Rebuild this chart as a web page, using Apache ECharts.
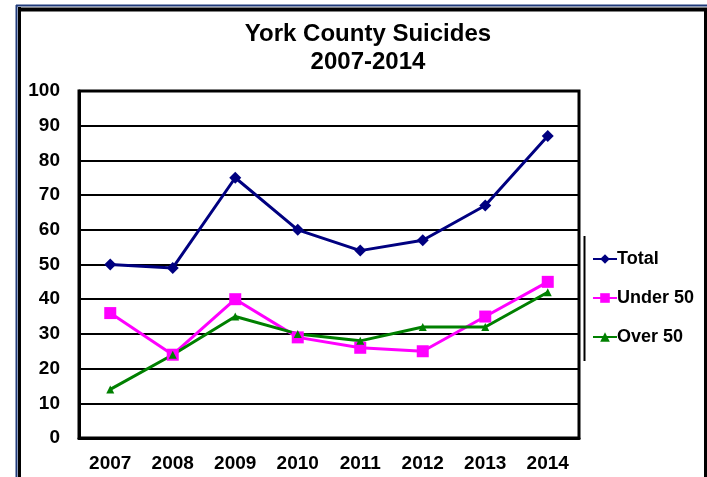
<!DOCTYPE html>
<html>
<head>
<meta charset="utf-8">
<script src="https://cdn.jsdelivr.net/npm/echarts@6/dist/echarts.min.js"></script>
<style>
  html, body { margin: 0; padding: 0; background: #fff; }
  #chart { width: 707px; height: 477px; }
</style>
</head>
<body>
<div id="chart"></div>
<script>
const years = ['2007', '2008', '2009', '2010', '2011', '2012', '2013', '2014']
const total = [50, 49, 75, 60, 54, 57, 67, 87]
const under50 = [36, 24, 40, 29, 26, 25, 35, 45]
const over50 = [14, 24, 35, 30, 28, 32, 32, 42]

const FONT = '"Liberation Sans", Arial, sans-serif'

const chart = echarts.init(document.getElementById('chart'))

// outer frame of the original picture (blue edge + black inner edge)
const frame = [
  { type: 'line', shape: { x1: 16.5, y1: 5, x2: 16.5, y2: 477 }, style: { stroke: '#1f3a7a', lineWidth: 2 } },
  { type: 'line', shape: { x1: 16, y1: 5.5, x2: 707, y2: 5.5 }, style: { stroke: '#1f3a7a', lineWidth: 2 } },
  { type: 'line', shape: { x1: 19.5, y1: 7, x2: 19.5, y2: 477 }, style: { stroke: '#000', lineWidth: 3 } },
  { type: 'line', shape: { x1: 18, y1: 9.5, x2: 707, y2: 9.5 }, style: { stroke: '#000', lineWidth: 4 } },
  { type: 'line', shape: { x1: 705.5, y1: 8, x2: 705.5, y2: 477 }, style: { stroke: '#000', lineWidth: 3 } },
  // legend box left edge
  { type: 'line', shape: { x1: 584.5, y1: 236, x2: 584.5, y2: 361 }, style: { stroke: '#000', lineWidth: 2 } }
]

chart.setOption({
  animation: false,
  title: {
    text: 'York County Suicides\n2007-2014',
    left: 363,
    top: 15,
    textAlign: 'center',
    textStyle: { fontFamily: FONT, fontSize: 24, fontWeight: 'bold', color: '#000', lineHeight: 28 }
  },
  legend: {
    orient: 'vertical',
    left: 587,
    top: 245,
    itemGap: 21,
    itemWidth: 24,
    itemHeight: 12,
    data: ['Total', 'Under 50', 'Over 50'],
    textStyle: { fontFamily: FONT, fontSize: 18, fontWeight: 'bold', color: '#000', padding: [0, 0, 0, -5] }
  },
  grid: {
    left: 79, right: 128, top: 91, bottom: 39,
    show: true, borderColor: '#000', borderWidth: 3
  },
  xAxis: {
    type: 'category',
    data: years,
    boundaryGap: true,
    axisLine: { lineStyle: { color: '#000', width: 3 } },
    axisTick: { show: false },
    axisLabel: { margin: 16, fontFamily: FONT, fontSize: 19, fontWeight: 'bold', color: '#000' }
  },
  yAxis: {
    type: 'value',
    min: 0, max: 100, interval: 10,
    axisLine: { show: true, lineStyle: { color: '#000', width: 3 } },
    axisTick: { show: false },
    splitLine: { lineStyle: { color: '#000', width: 2 } },
    axisLabel: { margin: 19, fontFamily: FONT, fontSize: 19, fontWeight: 'bold', color: '#000' }
  },
  graphic: frame,
  series: [
    {
      name: 'Total', type: 'line', data: total,
      symbol: 'diamond', symbolSize: 12,
      lineStyle: { width: 3, color: '#000080' },
      itemStyle: { color: '#000080' }
    },
    {
      name: 'Under 50', type: 'line', data: under50,
      symbol: 'rect', symbolSize: 12,
      lineStyle: { width: 3, color: '#ff00ff' },
      itemStyle: { color: '#ff00ff' }
    },
    {
      name: 'Over 50', type: 'line', data: over50,
      symbol: 'triangle', symbolSize: 8,
      lineStyle: { width: 3, color: '#008000' },
      itemStyle: { color: '#008000' }
    }
  ]
})
</script>
</body>
</html>
